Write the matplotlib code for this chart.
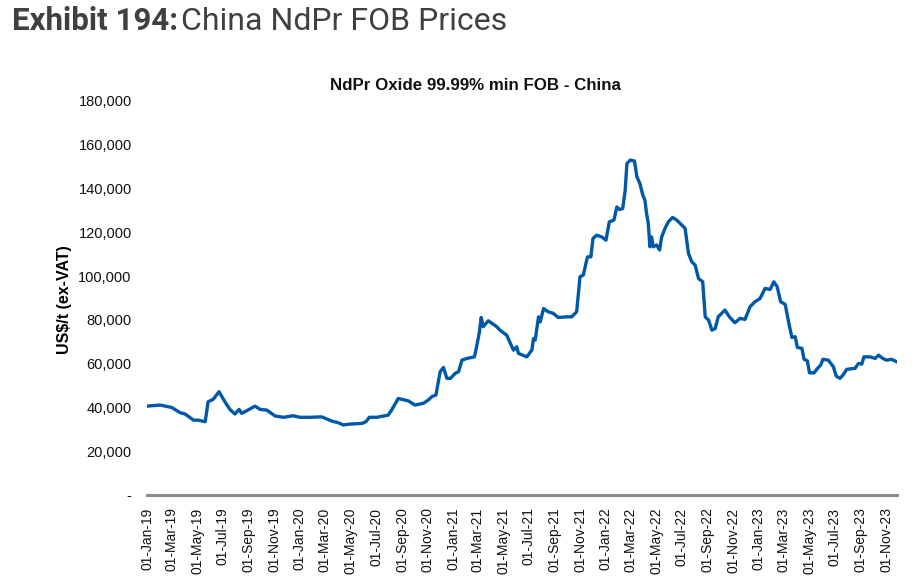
import matplotlib
matplotlib.use("Agg")
import matplotlib.pyplot as plt
import matplotlib.dates as mdates
import matplotlib.ticker as mticker
import pandas as pd

# NdPr Oxide 99.99% min FOB - China, US$/t
datas = [
    "2019-01-01", "2019-02-01", "2019-03-01", "2019-03-21", "2019-04-02", "2019-04-22",
    "2019-05-03", "2019-05-20", "2019-05-27", "2019-06-08", "2019-06-22", "2019-07-06",
    "2019-07-18", "2019-07-30", "2019-08-09", "2019-08-15", "2019-08-27", "2019-09-16",
    "2019-09-28", "2019-10-14", "2019-11-03", "2019-11-23", "2019-12-16", "2020-01-01",
    "2020-01-25", "2020-02-22", "2020-03-17", "2020-04-02", "2020-04-14", "2020-04-30",
    "2020-05-28", "2020-06-07", "2020-06-15", "2020-07-03", "2020-07-30", "2020-08-07",
    "2020-08-23", "2020-09-16", "2020-10-02", "2020-10-22", "2020-11-03", "2020-11-11",
    "2020-11-21", "2020-12-01", "2020-12-09", "2020-12-17", "2020-12-26", "2021-01-06",
    "2021-01-14", "2021-01-22", "2021-02-03", "2021-02-21", "2021-02-26", "2021-03-05",
    "2021-03-09", "2021-03-14", "2021-03-26", "2021-04-15", "2021-04-23", "2021-05-09",
    "2021-05-25", "2021-06-02", "2021-06-06", "2021-06-26", "2021-07-08", "2021-07-12",
    "2021-07-16", "2021-07-24", "2021-07-28", "2021-08-05", "2021-08-16", "2021-08-28",
    "2021-09-09", "2021-09-29", "2021-10-11", "2021-10-23", "2021-10-31", "2021-11-08",
    "2021-11-15", "2021-11-18", "2021-11-26", "2021-12-01", "2021-12-10", "2021-12-22",
    "2022-01-01", "2022-01-09", "2022-01-20", "2022-01-27", "2022-02-02", "2022-02-10",
    "2022-02-16", "2022-02-20", "2022-02-28", "2022-03-10", "2022-03-16", "2022-03-23",
    "2022-03-30", "2022-04-04", "2022-04-08", "2022-04-12", "2022-04-16", "2022-04-20",
    "2022-04-24", "2022-05-02", "2022-05-09", "2022-05-14", "2022-05-22", "2022-05-30",
    "2022-06-09", "2022-06-19", "2022-07-01", "2022-07-09", "2022-07-17", "2022-07-25",
    "2022-08-02", "2022-08-10", "2022-08-20", "2022-08-26", "2022-09-03", "2022-09-11",
    "2022-09-19", "2022-09-26", "2022-10-12", "2022-10-24", "2022-11-05", "2022-11-17",
    "2022-11-29", "2022-12-11", "2022-12-23", "2023-01-04", "2023-01-16", "2023-01-28",
    "2023-02-06", "2023-02-14", "2023-02-22", "2023-03-05", "2023-03-13", "2023-03-21",
    "2023-03-29", "2023-04-03", "2023-04-14", "2023-04-19", "2023-04-27", "2023-05-02",
    "2023-05-13", "2023-05-21", "2023-05-29", "2023-06-03", "2023-06-16", "2023-06-28",
    "2023-07-05", "2023-07-14", "2023-07-21", "2023-07-30", "2023-08-19", "2023-08-27",
    "2023-09-04", "2023-09-09", "2023-09-24", "2023-10-06", "2023-10-14", "2023-10-24",
    "2023-11-02", "2023-11-14", "2023-11-26",
]
precos = [
    40600, 41100, 40000, 37600, 37000, 34200,
    34200, 33500, 42600, 43700, 47200, 42600,
    39100, 37000, 39100, 37300, 38500, 40600,
    39100, 38800, 36100, 35500, 36200, 35500,
    35500, 35700, 33800, 33000, 32000, 32400,
    32700, 33500, 35500, 35500, 36500, 38800,
    44100, 43000, 41100, 41900, 43400, 44900,
    45700, 56300, 58300, 53300, 53300, 55600,
    56300, 61600, 62400, 63100, 67700, 74600,
    81100, 76900, 79600, 76900, 75300, 73000,
    66200, 67700, 64700, 63100, 66200, 71500,
    70800, 81400, 79100, 85200, 83700, 83000,
    81100, 81400, 81400, 83700, 99700, 100500,
    106500, 108800, 108800, 117200, 118700, 117900,
    116400, 124800, 125600, 131600, 130400, 130900,
    139300, 151400, 153000, 152600, 145300, 142300,
    137000, 134700, 128600, 124100, 113400, 117900,
    113400, 114200, 111900, 117900, 121800, 124800,
    126800, 125600, 123300, 121800, 110400, 106500,
    105000, 98900, 97400, 81400, 79900, 75300,
    76100, 81400, 84500, 81100, 78700, 80700,
    80200, 86000, 88300, 89800, 94400, 93900,
    97400, 95100, 88300, 87100, 79100, 72000,
    72300, 67400, 67000, 62000, 61300, 55800,
    55800, 57800, 59400, 62000, 61600, 58600,
    54300, 53300, 54800, 57400, 57900, 60100,
    59800, 63100, 63100, 62400, 63900, 62400,
    61600, 62000, 60900,
]

titulo_exhibit = "Exhibit 194:"
titulo_resto = "China NdPr FOB Prices"
titulo_grafico = "NdPr Oxide 99.99% min FOB - China"
rotulo_y = "US$/t (ex-VAT)"

plt.rcParams["font.family"] = ["Liberation Sans", "DejaVu Sans"]

x = pd.to_datetime(datas)

fig = plt.figure(figsize=(9.2, 5.86), dpi=100)
ax = fig.add_axes([147 / 920, 1 - 495 / 586, (897 - 147) / 920, (495 - 101) / 586])

ax.plot(x, precos, color="#0059a8", linewidth=2.4, solid_joinstyle="round")

ax.set_xlim(pd.Timestamp("2019-01-01"), pd.Timestamp("2023-11-27"))
ax.set_ylim(0, 180000)

ax.xaxis.set_major_locator(mdates.MonthLocator(bymonth=[1, 3, 5, 7, 9, 11], bymonthday=1))
ax.xaxis.set_major_formatter(mdates.DateFormatter("%d-%b-%y"))
ax.yaxis.set_major_locator(mticker.MultipleLocator(20000))
ax.yaxis.set_major_formatter(mticker.FuncFormatter(lambda v, p: "-" if v == 0 else f"{v:,.0f}"))

for lab in ax.get_xticklabels():
    lab.set_rotation(90)
ax.tick_params(axis="x", length=0, pad=9, labelsize=10, colors="#111111")
ax.tick_params(axis="y", length=0, pad=11, labelsize=10.5, colors="#111111")

for s in ["top", "right", "left"]:
    ax.spines[s].set_visible(False)
ax.spines["bottom"].set_color("#8c8c8c")
ax.spines["bottom"].set_linewidth(2.2)

ax.set_ylabel(rotulo_y, fontsize=11.5, fontweight="bold")
ax.yaxis.set_label_coords((72 - 147) / 750, (495 - 300) / 394)

fig.text(475 / 920, 1 - 85 / 586, titulo_grafico, ha="center", va="center",
         fontsize=12.2, fontweight="bold", color="#111111")

t1 = fig.text(12 / 920, 1 - 29.5 / 586, titulo_exhibit, ha="left", va="baseline",
              fontsize=22.5, fontweight="bold", color="#404040", family=["Roboto"])
fig.canvas.draw()
bb = t1.get_window_extent()
fig.text((bb.x1 + 3) / 920, 1 - 29.5 / 586, titulo_resto, ha="left", va="baseline",
         fontsize=23, color="#404040", family=["Roboto"])

fig.savefig("out.png", dpi=100)
